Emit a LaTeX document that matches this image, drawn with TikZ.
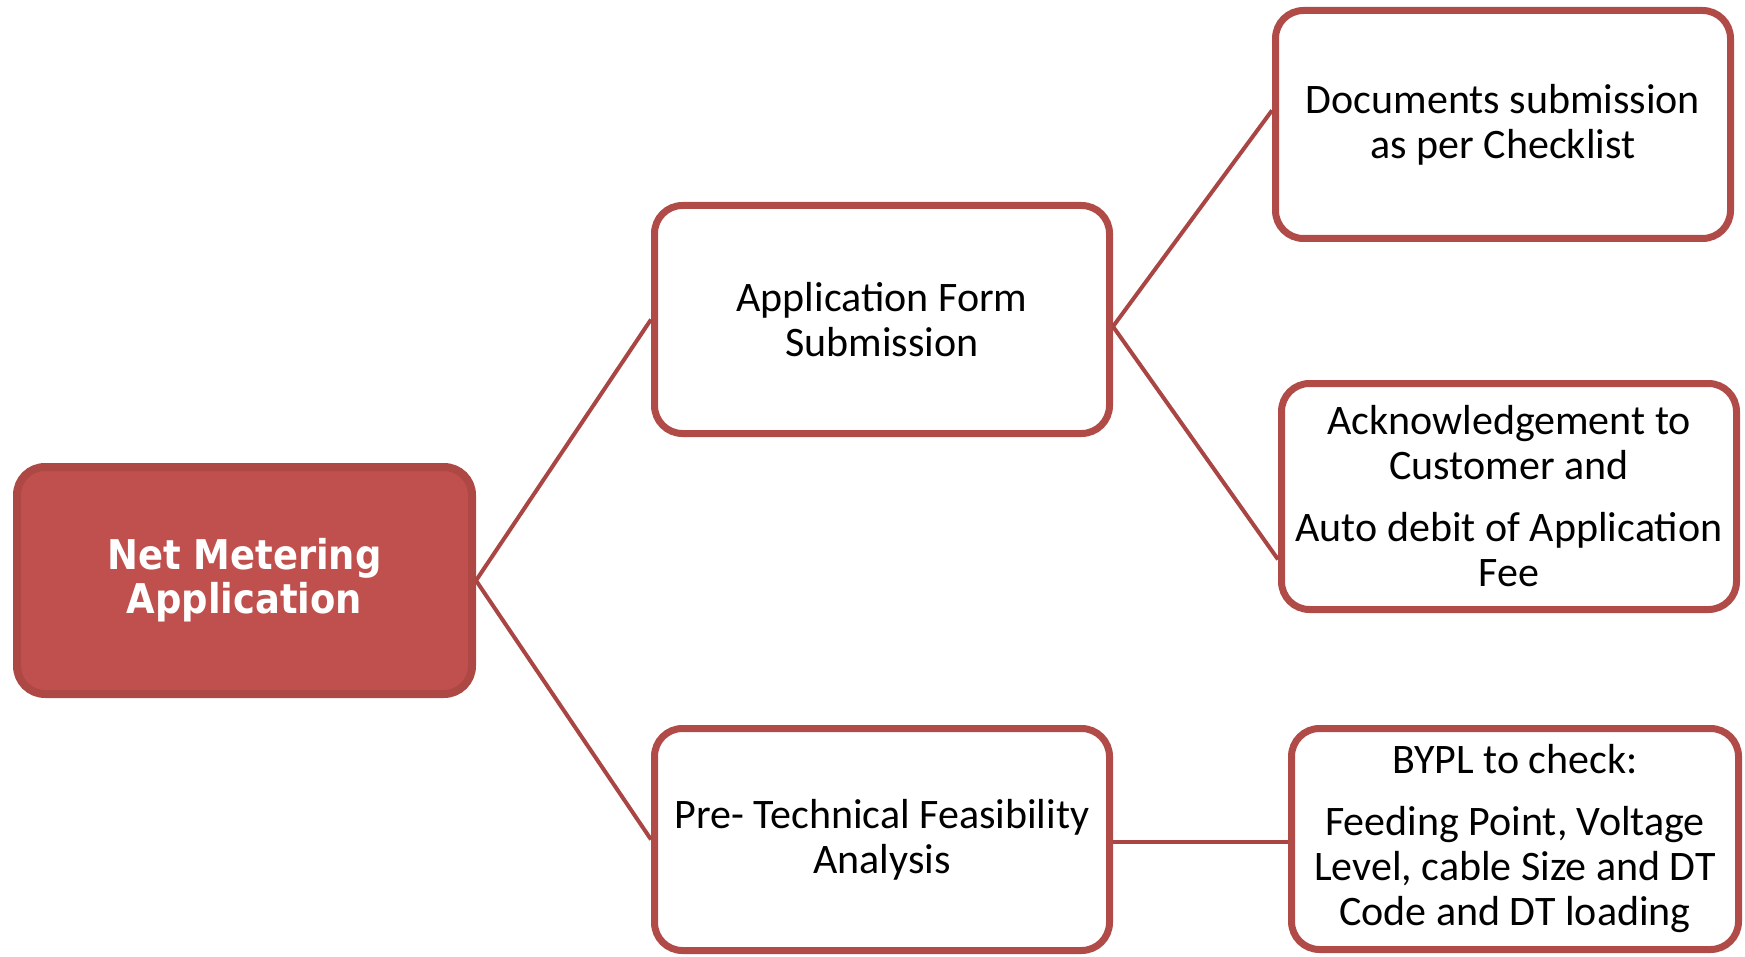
\documentclass[tikz,border=0pt]{standalone}
\usepackage{fontspec}
\setmainfont{Carlito}
\newfontfamily\rootfont{DejaVu Sans Condensed}
\usetikzlibrary{calc}
\definecolor{rootfill}{HTML}{C0504D}
\definecolor{rootline}{HTML}{AD4845}
\definecolor{boxline}{HTML}{B04B48}
\definecolor{connline}{HTML}{A94643}
\begin{document}
\begin{tikzpicture}[x=0.5pt,y=-0.5pt,
  box/.style={draw=boxline, line width=3.5pt, rounded corners=14pt, fill=white,
    align=center, inner sep=0pt, font=\fontsize{21}{22.5}\selectfont},
  rootbox/.style={draw=rootline, line width=4pt, rounded corners=14pt, fill=rootfill,
    align=center, inner sep=0pt, text=white, font=\rootfont\bfseries\fontsize{20.5}{22}\selectfont},
  conn/.style={draw=connline, line width=2pt}]
\useasboundingbox (0,0) rectangle (1745,957);
\node[rootbox, minimum width=227.5pt, minimum height=113.5pt] (root) at (244.5,580.5)
  {Net Metering\\Application};
\node[box, minimum width=227.5pt, minimum height=114pt] (app) at (882,319.5)
  {Application Form\\Submission};
\node[box, minimum width=227.5pt, minimum height=114pt] (docs) at (1503,124.5)
  {Documents submission\\as per Checklist};
\node[box, minimum width=227.5pt, minimum height=113pt] (ack) at (1509,496.5)
  {Acknowledgement to\\Customer and\\[8.5pt]Auto debit of Application\\Fee};
\node[box, minimum width=227.5pt, minimum height=111pt] (pre) at (882,839.5)
  {Pre- Technical Feasibility\\Analysis};
\node[box, minimum width=223.5pt, minimum height=110.5pt] (bypl) at (1515,839)
  {BYPL to check:\\[8.5pt]Feeding Point, Voltage\\Level, cable Size and DT\\Code and DT loading};
\draw[conn] (root.east) -- (app.west);
\draw[conn] (root.east) -- (pre.west);
\draw[conn] ([yshift=-3.5pt]app.east) -- ($(docs.north west)!0.44!(docs.south west)$);
\draw[conn] ([yshift=-3.5pt]app.east) -- ($(ack.north west)!0.77!(ack.south west)$);
\draw[conn] ([yshift=-1pt]pre.east) -- ([yshift=-1pt]pre.east -| bypl.west);
\end{tikzpicture}
\end{document}
